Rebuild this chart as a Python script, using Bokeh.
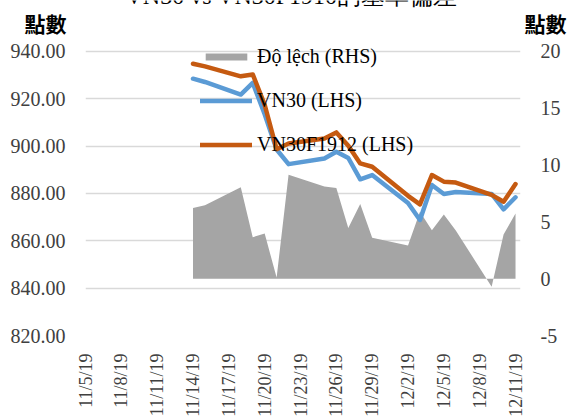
import math
import pandas as pd
from bokeh.plotting import figure
from bokeh.layouts import column
from bokeh.models import (Range1d, LinearAxis, FixedTicker, NumeralTickFormatter,
                          Legend, LegendItem, Label)
from bokeh.embed import file_html
from bokeh.resources import INLINE

# ---------------- data ----------------
dates = ["2019-11-14", "2019-11-15", "2019-11-18", "2019-11-19", "2019-11-20",
         "2019-11-21", "2019-11-22", "2019-11-25", "2019-11-26", "2019-11-27",
         "2019-11-28", "2019-11-29", "2019-12-02", "2019-12-03", "2019-12-04",
         "2019-12-05", "2019-12-06", "2019-12-09", "2019-12-10", "2019-12-11"]
vn30 = [928.5, 927.1, 921.8, 926.7, 913.5, 898.6, 892.4, 894.8, 897.6, 895.0,
        886.0, 887.8, 876.0, 868.8, 883.6, 879.8, 880.6, 879.8, 873.3, 878.4]
vn30f1912 = [934.8, 933.7, 929.5, 930.3, 917.5, 898.7, 901.1, 903.2, 905.8, 900.2,
             892.7, 891.3, 879.0, 875.4, 887.8, 885.0, 884.6, 879.4, 876.5, 884.0]
basis = [6.23, 6.46, 8.04, 3.65, 3.97, 0.1, 9.15, 8.12, 7.98, 4.47,
         6.58, 3.6, 2.92, 5.9, 4.27, 5.64, 4.24, -0.7, 3.89, 5.73]

x_tick_dates = ["2019-11-05", "2019-11-08", "2019-11-11", "2019-11-14", "2019-11-17",
                "2019-11-20", "2019-11-23", "2019-11-26", "2019-11-29", "2019-12-02",
                "2019-12-05", "2019-12-08", "2019-12-11"]
x_tick_labels = ["11/5/19", "11/8/19", "11/11/19", "11/14/19", "11/17/19",
                 "11/20/19", "11/23/19", "11/26/19", "11/29/19", "12/2/19",
                 "12/5/19", "12/8/19", "12/11/19"]
left_ticks = [820, 840, 860, 880, 900, 920, 940]
right_ticks = [-5, 0, 5, 10, 15, 20]

title_text = "VN30 vs VN30F1910的基率偏差"
unit_text = "點數"
legend_labels = ["Độ lệch (RHS)", "VN30 (LHS)", "VN30F1912 (LHS)"]

# ---------------- styles ----------------
SERIF = "Liberation Serif"
CJK = "Noto Sans CJK TC"
BLUE = "#5B9BD5"
ORANGE = "#C55A11"
GRAY = "#A5A5A5"
GRID = "#D9D9D9"
TICK_COLOR = "#404040"

W = 575
TOP_H = 40          # header strip (title + unit labels)
MAIN_H = 419 - TOP_H
PX_LEFT = 285 / 120.0   # pixels per left-axis unit
PX_RIGHT = 285 / 25.0   # pixels per right-axis unit
FRAME_H = MAIN_H - 83
extra_px = FRAME_H - 285

# ---------------- header strip ----------------
head = figure(width=W, height=TOP_H, output_backend="svg", toolbar_location=None,
              x_range=Range1d(0, W), y_range=Range1d(0, TOP_H),
              x_axis_location=None, y_axis_location=None,
              min_border=0, min_border_left=0, min_border_right=0,
              min_border_top=0, min_border_bottom=0)
head.frame_align = False
head.outline_line_color = None
head.xgrid.visible = False
head.ygrid.visible = False
head.add_layout(Label(x=291, y=TOP_H + 5, text=title_text,
                      text_align="center", text_baseline="alphabetic",
                      text_font=SERIF, text_font_size="24px", text_color="black"))
head.add_layout(Label(x=45, y=TOP_H - 22.5, text=unit_text,
                      text_align="center", text_baseline="middle",
                      text_font=CJK, text_font_size="21px", text_font_style="bold",
                      text_color="black"))
head.add_layout(Label(x=545, y=TOP_H - 22.5, text=unit_text,
                      text_align="center", text_baseline="middle",
                      text_font=CJK, text_font_size="21px", text_font_style="bold",
                      text_color="black"))

# ---------------- main chart ----------------
x = pd.to_datetime(dates)

p = figure(width=W, height=MAIN_H, x_axis_type="datetime",
           output_backend="svg", toolbar_location=None,
           x_range=Range1d(pd.Timestamp("2019-11-05"), pd.Timestamp("2019-12-11 10:00")),
           y_range=Range1d(820, 940 + extra_px / PX_LEFT),
           min_border_left=85, min_border_right=55,
           min_border_top=0, min_border_bottom=83)
p.frame_align = False
p.extra_y_ranges = {"rhs": Range1d(-5, 20 + extra_px / PX_RIGHT)}
p.outline_line_color = None
p.background_fill_color = "white"
p.border_fill_color = "white"

area = p.varea(x=x, y1=0, y2=basis, y_range_name="rhs", fill_color=GRAY, fill_alpha=1.0)
l1 = p.line(x, vn30, line_color=BLUE, line_width=4.5, line_join="round", line_cap="round")
l2 = p.line(x, vn30f1912, line_color=ORANGE, line_width=4.5, line_join="round", line_cap="round")

# x axis
tick_ms = [int(pd.Timestamp(d).value // 10**6) for d in x_tick_dates]
p.xaxis.ticker = FixedTicker(ticks=tick_ms)
p.xaxis.major_label_overrides = {t: lab for t, lab in zip(tick_ms, x_tick_labels)}
p.xaxis.major_label_orientation = math.pi / 2
p.xaxis.major_label_text_font = SERIF
p.xaxis.major_label_text_font_size = "18px"
p.xaxis.major_label_text_color = TICK_COLOR
p.xaxis.major_label_standoff = 12

# left axis
p.yaxis.ticker = FixedTicker(ticks=left_ticks)
p.yaxis.formatter = NumeralTickFormatter(format="0.00")
p.yaxis.major_label_text_font = SERIF
p.yaxis.major_label_text_font_size = "20px"
p.yaxis.major_label_text_color = TICK_COLOR
p.yaxis.major_label_standoff = 14

# right axis
raxis = LinearAxis(y_range_name="rhs", ticker=FixedTicker(ticks=right_ticks),
                   formatter=NumeralTickFormatter(format="0"))
raxis.major_label_text_font = SERIF
raxis.major_label_text_font_size = "20px"
raxis.major_label_text_color = TICK_COLOR
raxis.major_label_standoff = 14
p.add_layout(raxis, "right")

for ax in p.xaxis + p.yaxis + [raxis]:
    ax.axis_line_color = None
    ax.major_tick_line_color = None
    ax.minor_tick_line_color = None

p.xgrid.grid_line_color = None
p.ygrid.grid_line_color = GRID
p.ygrid.grid_line_width = 1.5
p.ygrid.ticker = FixedTicker(ticks=left_ticks)

legend = Legend(items=[LegendItem(label=legend_labels[0], renderers=[area]),
                       LegendItem(label=legend_labels[1], renderers=[l1]),
                       LegendItem(label=legend_labels[2], renderers=[l2])],
                location=(115, 179), orientation="vertical",
                glyph_width=52, glyph_height=9, label_height=20, spacing=21,
                padding=0, margin=0, label_standoff=5,
                label_text_font=SERIF, label_text_font_size="20px",
                label_text_color="black",
                border_line_color=None, background_fill_alpha=0)
p.add_layout(legend)

layout = column(head, p, spacing=0)
open("out.html", "w").write(file_html(layout, INLINE))
